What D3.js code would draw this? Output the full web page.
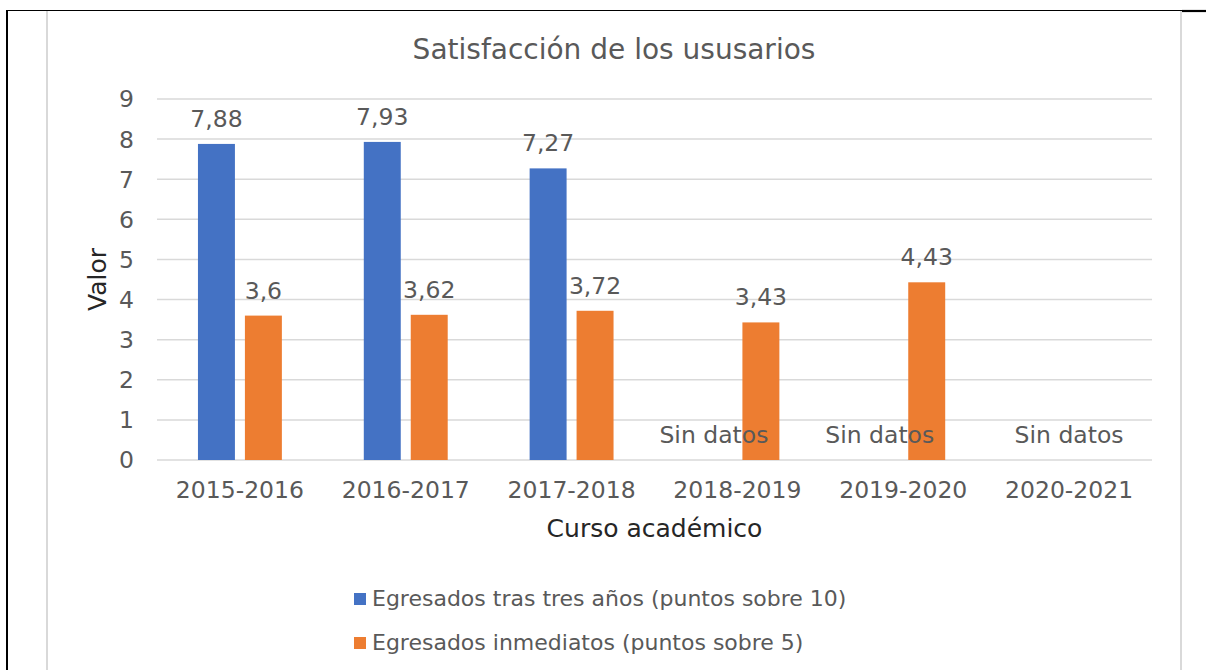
<!DOCTYPE html>
<html>
<head>
<meta charset="utf-8">
<script src="https://cdn.jsdelivr.net/npm/d3@7"></script>
<style>
  body { margin: 0; background: #fff; }
  text { font-family: "DejaVu Sans", Verdana, sans-serif; fill: #595959; }
</style>
</head>
<body>
<div id="chart"></div>
<script>
const categories = ["2015-2016", "2016-2017", "2017-2018", "2018-2019", "2019-2020", "2020-2021"];
const tresAnios  = [7.88, 7.93, 7.27, null, null, null];
const inmediatos = [3.6, 3.62, 3.72, 3.43, 4.43, null];
const yTicks = [0, 1, 2, 3, 4, 5, 6, 7, 8, 9];

const seriesNames = [
  "Egresados tras tres años (puntos sobre 10)",
  "Egresados inmediatos (puntos sobre 5)"
];
const colors = ["#4472c4", "#ed7d31"];
const noDataText = "Sin datos";

const W = 1206, H = 670;
const plot = { left: 157, right: 1152, top: 99, bottom: 460 };

const svg = d3.select("#chart")
  .append("svg")
  .attr("width", W)
  .attr("height", H);

svg.append("rect").attr("width", W).attr("height", H).attr("fill", "#fff");

// page/table borders
svg.append("line").attr("x1", 6).attr("x2", 1182).attr("y1", 10.5).attr("y2", 10.5)
  .attr("stroke", "#000").attr("stroke-width", 1.2);
svg.append("line").attr("x1", 1182).attr("x2", W).attr("y1", 11).attr("y2", 11)
  .attr("stroke", "#000").attr("stroke-width", 2.2);
svg.append("line").attr("x1", 7).attr("x2", 7).attr("y1", 10).attr("y2", H)
  .attr("stroke", "#000").attr("stroke-width", 2);
svg.append("line").attr("x1", 47).attr("x2", 47).attr("y1", 11).attr("y2", H)
  .attr("stroke", "#d9d9d9").attr("stroke-width", 2);
svg.append("line").attr("x1", 1181).attr("x2", 1181).attr("y1", 11).attr("y2", H)
  .attr("stroke", "#d9d9d9").attr("stroke-width", 2);

const x = d3.scaleBand()
  .domain(categories)
  .range([plot.left, plot.right]);

const y = d3.scaleLinear()
  .domain([0, 9])
  .range([plot.bottom, plot.top]);

const half = x.bandwidth() * 0.253;
const xs = d3.scaleBand()
  .domain([0, 1])
  .range([-half, half])
  .paddingInner(10 / 47);

// gridlines
svg.append("g")
  .selectAll("line")
  .data(yTicks)
  .join("line")
  .attr("x1", plot.left)
  .attr("x2", plot.right)
  .attr("y1", d => y(d))
  .attr("y2", d => y(d))
  .attr("stroke", "#d9d9d9")
  .attr("stroke-width", 1.5);

// y tick labels
svg.append("g")
  .selectAll("text")
  .data(yTicks)
  .join("text")
  .attr("x", 134)
  .attr("y", d => y(d))
  .attr("dy", "0.36em")
  .attr("text-anchor", "end")
  .attr("font-size", 23.5)
  .text(d => d);

// category labels
svg.append("g")
  .selectAll("text")
  .data(categories)
  .join("text")
  .attr("x", d => x(d) + x.bandwidth() / 2)
  .attr("y", 498)
  .attr("text-anchor", "middle")
  .attr("font-size", 23.5)
  .text(d => d);

const series = [tresAnios, inmediatos];
const fmt = v => String(v).replace(".", ",");

series.forEach((vals, s) => {
  const pts = categories.map((c, i) => ({ c, v: vals[i] })).filter(d => d.v != null);
  const cx = d => x(d.c) + x.bandwidth() / 2 + xs(s);

  svg.append("g")
    .selectAll("rect")
    .data(pts)
    .join("rect")
    .attr("x", cx)
    .attr("y", d => y(d.v))
    .attr("width", xs.bandwidth())
    .attr("height", d => y(0) - y(d.v))
    .attr("fill", colors[s]);

  svg.append("g")
    .selectAll("text")
    .data(pts)
    .join("text")
    .attr("x", d => cx(d) + xs.bandwidth() / 2)
    .attr("y", d => y(d.v) - 17)
    .attr("text-anchor", "middle")
    .attr("font-size", 23.5)
    .text(d => fmt(d.v));
});

// "Sin datos" labels where data is missing
const missing = categories.map((c, i) => ({ c, a: tresAnios[i], b: inmediatos[i] }))
  .filter(d => d.a == null);
svg.append("g")
  .selectAll("text")
  .data(missing)
  .join("text")
  .attr("x", d => x(d.c) + x.bandwidth() / 2 +
    (d.b == null ? 0 : xs(0) + xs.bandwidth() / 2))
  .attr("y", y(0) - 17)
  .attr("text-anchor", "middle")
  .attr("font-size", 23.5)
  .text(noDataText);

// titles
svg.append("text")
  .attr("x", 614)
  .attr("y", 59)
  .attr("text-anchor", "middle")
  .attr("font-size", 28)
  .text("Satisfacción de los ususarios");

svg.append("text")
  .attr("transform", `translate(106,${(plot.top + plot.bottom) / 2}) rotate(-90)`)
  .attr("text-anchor", "middle")
  .attr("font-size", 25)
  .style("fill", "#262626")
  .text("Valor");

svg.append("text")
  .attr("x", (plot.left + plot.right) / 2)
  .attr("y", 537)
  .attr("text-anchor", "middle")
  .attr("font-size", 25)
  .style("fill", "#262626")
  .text("Curso académico");

// legend
const legend = svg.append("g")
  .selectAll("g")
  .data(seriesNames)
  .join("g")
  .attr("transform", (d, i) => `translate(354,${606 + i * 44})`);

legend.append("rect")
  .attr("y", -13)
  .attr("width", 12)
  .attr("height", 12)
  .attr("fill", (d, i) => colors[i]);

legend.append("text")
  .attr("x", 18)
  .attr("font-size", 22)
  .text(d => d);
</script>
</body>
</html>
